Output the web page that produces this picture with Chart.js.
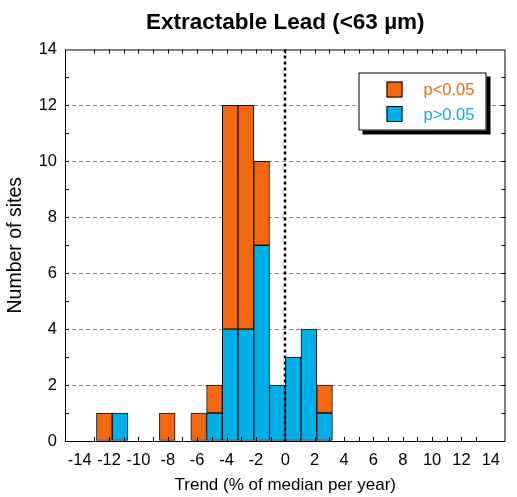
<!DOCTYPE html>
<html>
<head>
<meta charset="utf-8">
<script src="https://cdn.jsdelivr.net/npm/chart.js@4.4.1/dist/chart.umd.min.js"></script>
<style>
  html, body { margin: 0; padding: 0; background: #fff; }
  #wrap { width: 517px; height: 497px; }
</style>
</head>
<body>
<div id="wrap"><canvas id="hist"></canvas></div>
<script>
// histogram bins, 1 %/yr wide, keyed by lower edge
const binStarts = [-14, -13, -12, -11, -10, -9, -8, -7, -6, -5, -4, -3, -2, -1,
                   0, 1, 2, 3, 4, 5, 6, 7, 8, 9, 10, 11, 12, 13];
// sites with significant trend (p<0.05)
const sigCounts = [0, 0, 1, 0, 0, 0, 1, 0, 1, 1, 8, 8, 3, 0,
                   0, 0, 1, 0, 0, 0, 0, 0, 0, 0, 0, 0, 0, 0];
// sites without significant trend (p>0.05)
const nonSigCounts = [0, 0, 0, 1, 0, 0, 0, 0, 0, 1, 4, 4, 7, 2,
                      3, 4, 1, 0, 0, 0, 0, 0, 0, 0, 0, 0, 0, 0];
const xTickLabels = ['-14', '-12', '-10', '-8', '-6', '-4', '-2', '0',
                     '2', '4', '6', '8', '10', '12', '14'];
const yTickLabels = ['0', '2', '4', '6', '8', '10', '12', '14'];
const chartTitle = 'Extractable Lead (<63 \u00b5m)';

const ORANGE = '#f26711';
const BLUE = '#00aee8';
const FONT = '"Liberation Sans", Arial, sans-serif';

// frame, inward ticks, dotted zero line, title centred on the plot, boxed legend
const frame = {
  id: 'frame',
  afterDatasetsDraw(chart) {
    const { ctx, chartArea: a } = chart;
    const xs = chart.scales.xv;
    ctx.save();
    ctx.strokeStyle = '#000';
    ctx.lineWidth = 2.5;
    ctx.setLineDash([3, 3]);
    const x0 = Math.round(xs.getPixelForValue(0));
    ctx.beginPath();
    ctx.moveTo(x0, a.top);
    ctx.lineTo(x0, a.bottom);
    ctx.stroke();
    ctx.restore();
  },
  afterDraw(chart) {
    const { ctx, chartArea: a } = chart;
    const xs = chart.scales.xv, ys = chart.scales.y;
    ctx.save();
    ctx.strokeStyle = '#000';
    ctx.lineWidth = 1;
    ctx.strokeRect(a.left + 0.5, a.top + 0.5, a.right - a.left - 1, a.bottom - a.top);
    ctx.beginPath();
    for (let v = xs.min + 1; v < xs.max; v++) {
      const px = Math.round(xs.getPixelForValue(v)) + 0.5;
      ctx.moveTo(px, a.bottom); ctx.lineTo(px, a.bottom - 4);
      ctx.moveTo(px, a.top); ctx.lineTo(px, a.top + 4);
    }
    for (let v = ys.min + 1; v < ys.max; v++) {
      const py = Math.round(ys.getPixelForValue(v)) + 0.5;
      ctx.moveTo(a.left, py); ctx.lineTo(a.left + 4, py);
      ctx.moveTo(a.right, py); ctx.lineTo(a.right - 4, py);
    }
    ctx.stroke();

    ctx.fillStyle = '#000';
    ctx.font = 'bold 22.5px ' + FONT;
    ctx.textAlign = 'center';
    ctx.textBaseline = 'middle';
    ctx.fillText(chartTitle, (a.left + a.right) / 2, 23);

    // legend, top series first
    const bx = a.right - 147, by = a.top + 23, bw = 128, bh = 58;
    ctx.fillStyle = '#000';
    ctx.fillRect(bx + 4, by + 4, bw, bh);
    ctx.fillStyle = '#fff';
    ctx.fillRect(bx, by, bw, bh);
    ctx.strokeRect(bx + 0.5, by + 0.5, bw - 1, bh - 1);
    const items = chart.data.datasets.slice().reverse();
    ctx.font = '16.5px ' + FONT;
    ctx.textAlign = 'left';
    items.forEach((ds, i) => {
      const ry = by + 9 + i * 24.5;
      ctx.fillStyle = ds.backgroundColor;
      ctx.fillRect(bx + 28, ry, 16, 16);
      ctx.strokeRect(bx + 28.5, ry + 0.5, 15, 15);
      ctx.fillText(ds.label, bx + 65, ry + 9);
    });
    ctx.restore();
  }
};

new Chart(document.getElementById('hist'), {
  type: 'bar',
  data: {
    labels: binStarts,
    datasets: [
      {
        label: 'p>0.05',
        data: nonSigCounts,
        backgroundColor: BLUE,
        borderColor: '#111',
        borderWidth: 1,
        borderSkipped: false,
        barPercentage: 1,
        categoryPercentage: 1
      },
      {
        label: 'p<0.05',
        data: sigCounts,
        backgroundColor: ORANGE,
        borderColor: '#111',
        borderWidth: 1,
        borderSkipped: false,
        barPercentage: 1,
        categoryPercentage: 1
      }
    ]
  },
  options: {
    responsive: true,
    maintainAspectRatio: false,
    animation: false,
    layout: { padding: { left: 0, right: 11.5, top: 49.5, bottom: 0 } },
    plugins: {
      legend: { display: false },
      tooltip: { enabled: false },
      title: { display: false }
    },
    scales: {
      x: {
        type: 'category',
        display: false,
        stacked: true
      },
      xv: {
        type: 'linear',
        position: 'bottom',
        min: -14,
        max: 14,
        afterFit(s) { s.height = 56; },
        grid: { display: false, drawTicks: false },
        border: { display: false },
        ticks: {
          stepSize: 2,
          padding: 10,
          color: '#000',
          maxRotation: 0,
          font: { family: FONT, size: 16.5 },
          callback: (v) => xTickLabels[(v + 14) / 2]
        },
        title: {
          display: true,
          text: 'Trend (% of median per year)',
          color: '#000',
          font: { family: FONT, size: 17 },
          padding: { top: 0, bottom: 1 }
        }
      },
      y: {
        stacked: true,
        min: 0,
        max: 14,
        afterFit(s) { s.width = 65; },
        grid: {
          drawTicks: false,
          lineWidth: 1,
          color: (c) => (c.tick && (c.tick.value === 0 || c.tick.value === 14)) ? 'rgba(0,0,0,0)' : '#8c8c8c'
        },
        border: { display: false, dash: [4, 3] },
        ticks: {
          stepSize: 2,
          padding: 8,
          color: '#000',
          font: { family: FONT, size: 16.5 },
          callback: (v) => yTickLabels[v / 2]
        },
        title: {
          display: true,
          text: 'Number of sites',
          color: '#000',
          font: { family: FONT, size: 19.5 },
          padding: { top: 4, bottom: 0 }
        }
      }
    }
  },
  plugins: [frame]
});
</script>
</body>
</html>
